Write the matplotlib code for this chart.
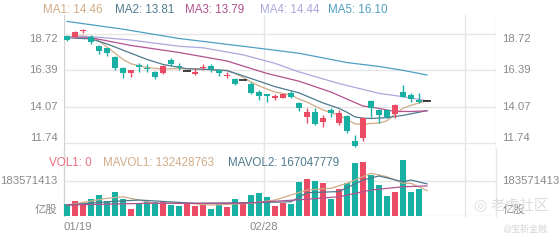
import numpy as np
import matplotlib.pyplot as plt

plt.rcParams['font.family'] = ['Liberation Sans', 'Noto Sans CJK SC', 'DejaVu Sans']

# K线数据
opens = [18.58, 18.53, 18.93, 18.57, 17.97, 17.82, 17.26, 16.53, 16.25, 16.74,
         16.57, 16.31, 16.21, 17.07, 16.70, 16.37, 16.14, 16.55, 16.70, 16.42,
         16.04, 15.84, 15.78, 15.50, 14.99, 14.86, 14.62, 14.64, 14.96, 14.28,
         13.41, 13.74, 13.05, 13.85, 13.03, 13.46, 11.87, 12.02, 14.44, 13.85,
         13.85, 13.59, 15.02, 14.81, 14.49, 14.43]
highs = [18.65, 18.92, 19.06, 18.68, 18.03, 17.86, 17.34, 16.60, 16.45, 16.85,
         16.79, 16.36, 16.75, 17.17, 16.85, 16.37, 16.53, 16.79, 16.79, 16.48,
         16.27, 15.93, 15.78, 15.67, 15.13, 14.86, 14.86, 14.90, 15.05, 14.34,
         13.96, 13.96, 13.52, 13.99, 13.85, 13.52, 12.24, 13.41, 14.49, 13.89,
         13.92, 14.21, 15.46, 14.96, 14.92, 14.43]
lows = [18.26, 18.48, 18.82, 18.12, 17.43, 17.34, 16.42, 15.89, 15.99, 16.31,
        16.27, 15.84, 16.17, 16.70, 16.42, 16.37, 16.10, 16.45, 16.27, 16.05,
        15.93, 15.46, 15.78, 14.88, 14.47, 14.38, 14.51, 14.60, 14.60, 13.78,
        12.99, 12.88, 12.77, 13.41, 12.88, 12.38, 11.44, 11.87, 13.41, 12.99,
        13.30, 13.31, 14.66, 14.38, 14.28, 14.43]
closes = [18.34, 18.89, 18.98, 18.20, 17.64, 17.52, 16.53, 16.25, 16.40, 16.61,
          16.47, 15.99, 16.70, 16.81, 16.60, 16.37, 16.31, 16.60, 16.49, 16.21,
          16.12, 15.54, 15.78, 14.92, 14.73, 14.73, 14.73, 14.86, 14.70, 13.96,
          13.74, 12.94, 13.31, 13.63, 13.67, 12.51, 11.53, 13.35, 13.96, 13.52,
          13.41, 14.17, 14.70, 14.53, 14.36, 14.43]
# 成交量 (百万股)
volumes = [61, 80, 61, 87, 108, 80, 125, 87, 35, 61, 73, 73, 80, 57, 54, 69, 54, 57,
           38, 61, 48, 90, 74, 111, 118, 97, 52, 69, 62, 177, 191, 184, 173, 87, 142,
           173, 274, 282, 213, 160, 104, 123, 291, 125, 140, 0]

# 均线 (读图取点)
ma1_idx = [0, 2, 3, 4, 5, 6, 7, 8, 10, 12, 14, 16, 18, 20, 21, 22, 23, 24, 26, 28,
           29, 30, 32, 34, 35, 36, 37, 38, 39, 40, 41, 42, 43, 44, 45]
ma1 = [18.55, 18.62, 18.55, 18.30, 17.90, 17.50, 17.10, 16.82, 16.58, 16.48, 16.52,
       16.48, 16.45, 16.40, 16.20, 15.95, 15.65, 15.40, 15.00, 14.82, 14.55, 14.35,
       13.85, 13.50, 13.25, 12.95, 12.92, 12.98, 13.00, 13.15, 13.60, 13.95, 14.15,
       14.30, 14.46]
ma2_idx = [0, 3, 5, 8, 10, 12, 15, 17, 20, 22, 24, 26, 29, 32, 34, 35, 36, 37, 38, 40,
           42, 44, 45]
ma2 = [18.50, 18.42, 18.10, 17.50, 17.10, 16.78, 16.50, 16.47, 16.38, 16.05, 15.70,
       15.35, 14.95, 14.30, 13.95, 13.70, 13.40, 13.32, 13.30, 13.35, 13.50, 13.70, 13.81]
ma3_idx = [0, 3, 8, 14, 20, 25, 29, 33, 37, 39, 41, 43, 45]
ma3 = [18.55, 18.50, 18.00, 17.55, 17.00, 16.20, 15.70, 15.00, 14.10, 13.95, 13.75,
       13.75, 13.79]
ma4_idx = [0, 3, 8, 14, 17, 22, 26, 29, 34, 39, 42, 45]
ma4 = [18.55, 18.57, 18.35, 17.95, 17.85, 17.40, 16.85, 16.30, 15.55, 14.92, 14.70, 14.44]
ma5_idx = [0, 7, 14, 22, 29, 35, 39, 42, 45]
ma5 = [19.55, 19.05, 18.45, 17.95, 17.50, 16.90, 16.65, 16.40, 16.10]

mavol1_idx = [0, 5, 7, 11, 15, 18, 23, 26, 30, 33, 35, 38, 40, 42, 43, 45]
mavol1 = [57, 92, 100, 66, 66, 57, 66, 83, 135, 144, 170, 222, 204, 170, 170, 132]
mavol2_idx = [0, 5, 9, 16, 23, 28, 30, 34, 37, 39, 42, 43, 45]
mavol2 = [57, 74, 83, 66, 69, 74, 121, 127, 187, 208, 178, 187, 167]
mavol3_idx = [0, 10, 22, 30, 34, 38, 42, 45]
mavol3 = [57, 66, 66, 87, 100, 135, 152, 156]

price_ticks = [18.72, 16.39, 14.07, 11.74]
vol_tick = 183571413

red = '#ec4b66'
teal = '#17b0a2'
grid = '#e6e6e6'
label_c = '#8a8a8a'
ma_colors = ['#d1ab87', '#4f7a8e', '#b2528f', '#aaa9dc', '#4e9fc1']

fig = plt.figure(figsize=(5.6, 2.4), dpi=100)
ax = fig.add_axes([64 / 560, 1 - 150 / 240, 432 / 560, 135 / 240])
axv = fig.add_axes([64 / 560, 1 - 216 / 240, 432 / 560, 61 / 240])

x = np.arange(len(closes))
o = np.array(opens); c = np.array(closes); h = np.array(highs); l = np.array(lows)
col = np.where(c > o, red, np.where(c < o, teal, '#222222'))

# 影线 + 实体
flat = c == o
ax.vlines(x[~flat], l[~flat], h[~flat], colors=col[~flat], linewidth=1, zorder=3)
ax.bar(x[~flat], np.abs(c - o)[~flat], bottom=np.minimum(o, c)[~flat], width=0.65,
       color=col[~flat], zorder=4)
ax.hlines(c[flat], x[flat] - 0.45, x[flat] + 0.45, colors='#222222', linewidth=1.2, zorder=4)

for idx, vals, cc in zip([ma1_idx, ma2_idx, ma3_idx, ma4_idx, ma5_idx],
                         [ma1, ma2, ma3, ma4, ma5], ma_colors):
    ax.plot(idx, vals, color=cc, linewidth=0.9, zorder=2)

xmin, xmax = -0.375, 53.625
ax.set_xlim(xmin, xmax)
ax.set_ylim(11.27, 19.963)
for p in price_ticks:
    ax.axhline(p, color=grid, linewidth=1, zorder=0)
for xv in [24.6, 49.75, xmax]:
    ax.axvline(xv, color=grid, linewidth=1, zorder=0)
ax.axvline(xmin, color='#d4d4d4', linewidth=1, zorder=0)
ax.set_yticks([])
ax.set_xticks([])
for s in ax.spines.values():
    s.set_visible(False)
for p, va in zip(price_ticks, ['top', 'center', 'center', 'bottom']):
    ax.text(-0.015, p, f'{p:.2f}', transform=ax.get_yaxis_transform(), ha='right',
            va=va, fontsize=8.2, color=label_c)
    ax.text(1.015, p, f'{p:.2f}', transform=ax.get_yaxis_transform(), ha='left',
            va=va, fontsize=8.2, color=label_c)

# 图例
ma_vals = [ma1[-1], ma2[-1], ma3[-1], ma4[-1], ma5[-1]]
lx = [43, 115, 185, 260, 328]
for i, (v, cc, px) in enumerate(zip(ma_vals, ma_colors, lx)):
    fig.text(px / 560, 1 - 10 / 240, f'MA{i + 1}: {v:.2f}', color=cc, fontsize=8.4,
             va='center', ha='left')

# 成交量
vol = np.array(volumes) * 1e6
vcol = np.where(c >= o, red, teal)
axv.bar(x, vol, width=0.7, color=vcol, zorder=3)
for idx, vals, cc in zip([mavol1_idx, mavol2_idx, mavol3_idx], [mavol1, mavol2, mavol3],
                         [ma_colors[0], ma_colors[1], ma_colors[2]]):
    axv.plot(idx, np.array(vals) * 1e6, color=cc, linewidth=0.9, zorder=4)
axv.set_xlim(xmin, xmax)
axv.set_ylim(0, 317e6)
axv.axhline(vol_tick, color=grid, linewidth=1, zorder=0)
axv.axhline(0, color=grid, linewidth=1, zorder=0)
for xv in [24.6, 49.75, xmax]:
    axv.axvline(xv, ymax=1.1, color=grid, linewidth=1, zorder=0, clip_on=False)
axv.axvline(xmin, ymax=1.1, color='#d4d4d4', linewidth=1, zorder=0, clip_on=False)
axv.set_yticks([])
axv.set_xticks([])
for s in axv.spines.values():
    s.set_visible(False)
axv.text(-0.015, vol_tick, str(vol_tick), transform=axv.get_yaxis_transform(),
         ha='right', va='center', fontsize=8.2, color=label_c)
axv.text(1.015, vol_tick, str(vol_tick), transform=axv.get_yaxis_transform(),
         ha='left', va='center', fontsize=8.2, color=label_c)
axv.text(-0.015, 0.1, '亿股', transform=axv.transAxes, ha='right', va='center',
         fontsize=8.2, color=label_c)
axv.text(1.015, 0.1, '亿股', transform=axv.transAxes, ha='left', va='center',
         fontsize=8.2, color=label_c)

vol_labels = [('VOL1: 0', '#ec6f80', 49), (f'MAVOL1: {132428763}', ma_colors[0], 103),
              (f'MAVOL2: {167047779}', ma_colors[1], 228)]
for t, cc, px in vol_labels:
    fig.text(px / 560, 1 - 163 / 240, t, color=cc, fontsize=8.4, va='center', ha='left')

# 日期
axv.text(xmin, -0.1, '01/19', ha='left', va='top', fontsize=8.2, color=label_c,
         transform=axv.get_xaxis_transform())
axv.text(24.6, -0.1, '02/28', ha='center', va='top', fontsize=8.2, color=label_c,
         transform=axv.get_xaxis_transform())

# 水印
fig.text(480 / 560, 1 - 206 / 240, '◎', color='#dddddd', fontsize=11,
         ha='center', va='center', family='DejaVu Sans')
fig.text(520 / 560, 1 - 206 / 240, '老虎社区', color='#dcdcdc', fontsize=10.5,
         ha='center', va='center')
fig.text(525 / 560, 1 - 229 / 240, '@宝新金融', color='#d6d6d6', fontsize=6.5,
         ha='center', va='center')

fig.savefig('out.png', dpi=100)
